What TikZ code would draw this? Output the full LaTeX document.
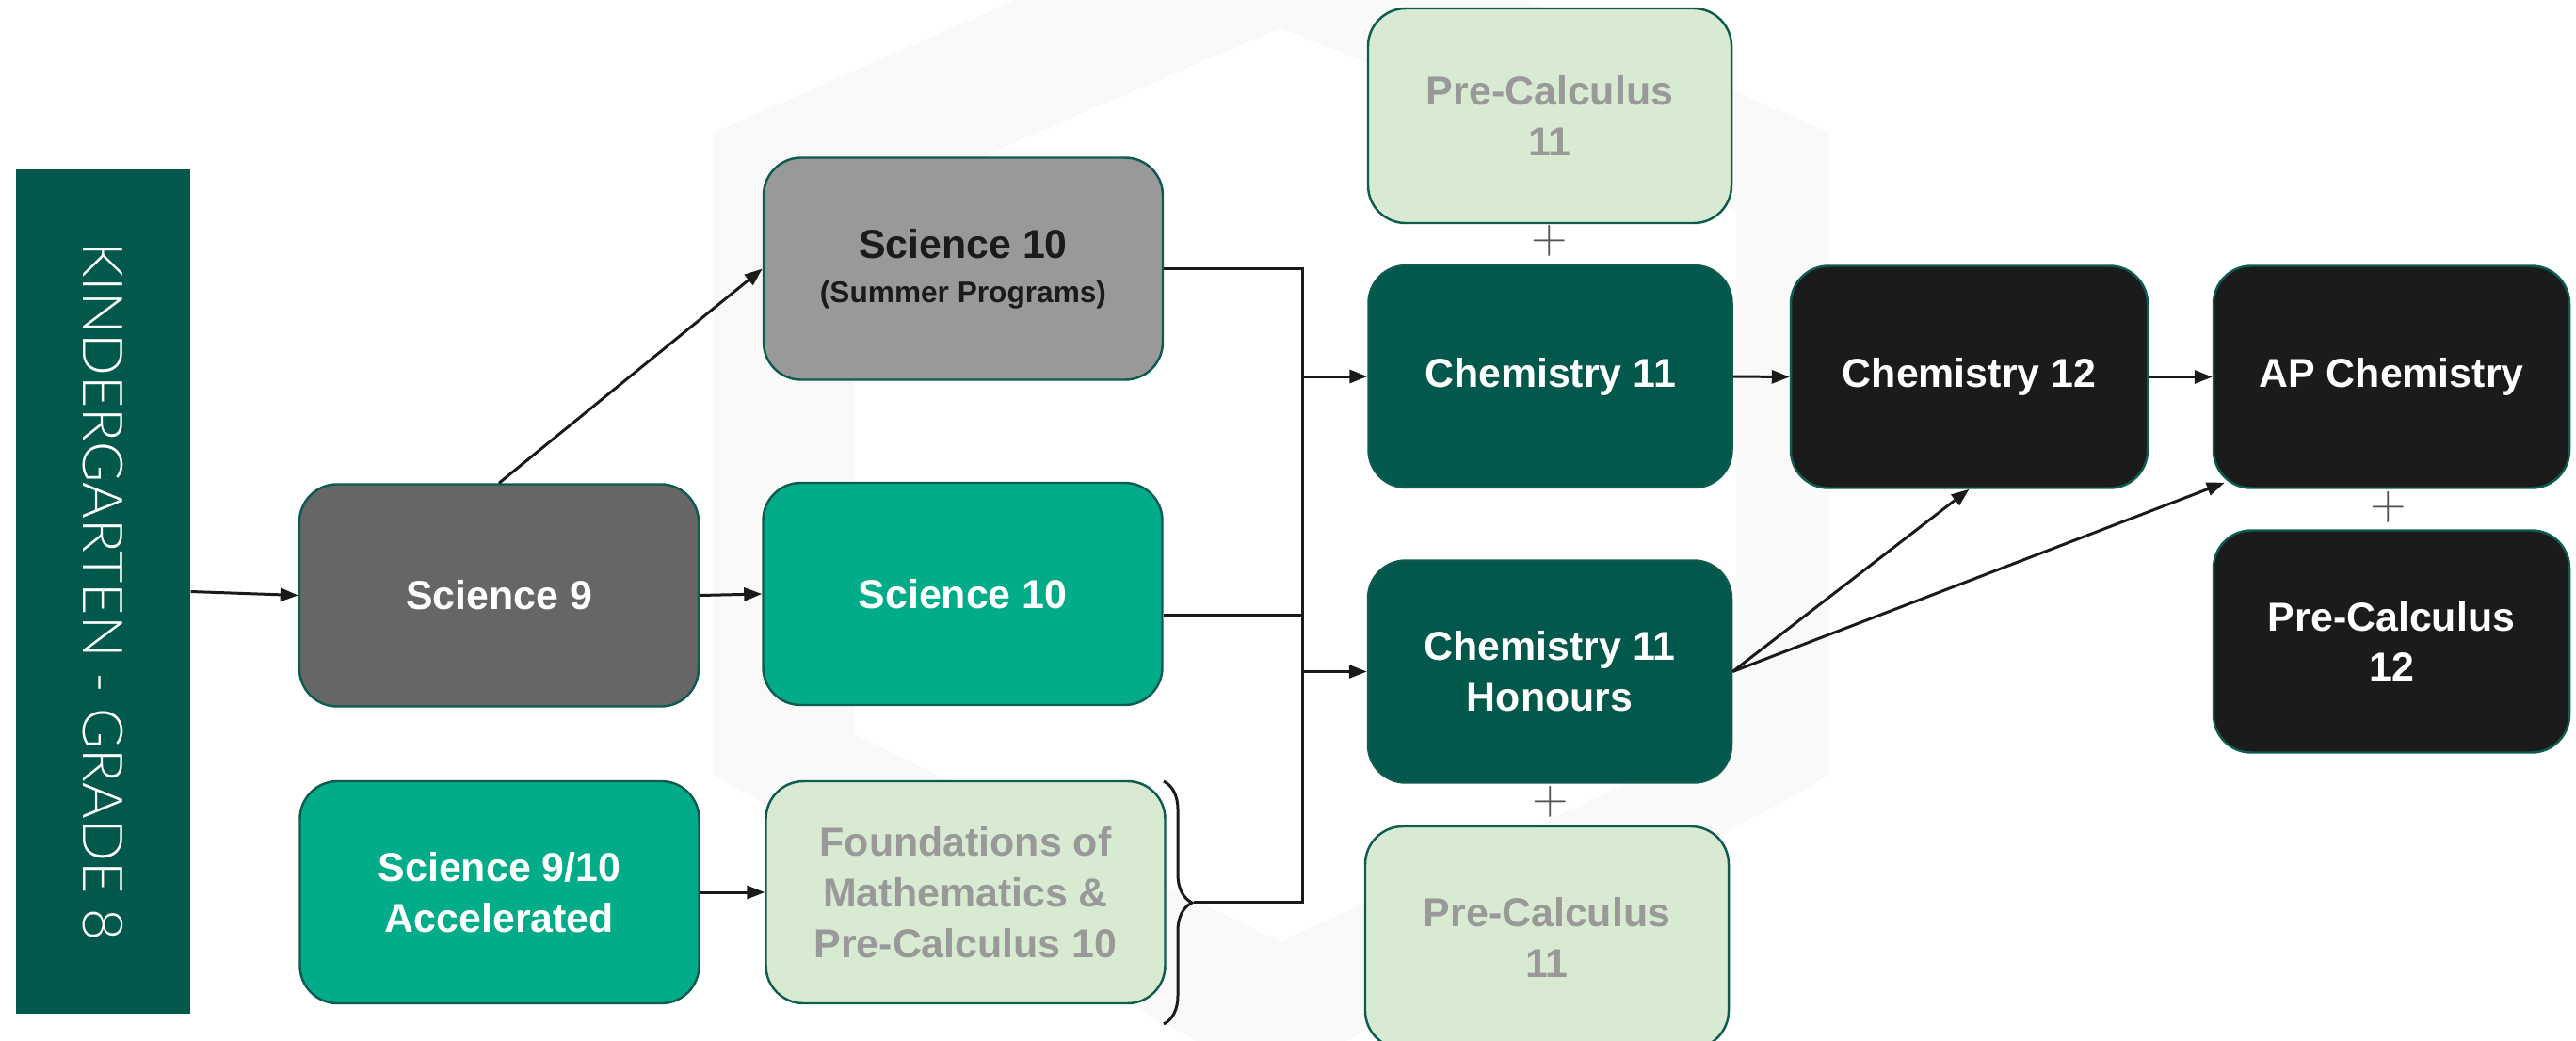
\documentclass[tikz,border=0pt]{standalone}
\usepackage{fontspec}
\setmainfont{Liberation Sans}
\newfontfamily\thinfont{Lato Light}
\usetikzlibrary{arrows.meta,decorations.pathreplacing}

\definecolor{dkgreen}{HTML}{02584B}
\definecolor{midgreen}{HTML}{03AC89}
\definecolor{palegreen}{HTML}{D9EAD3}
\definecolor{edgegreen}{HTML}{0E5B50}
\definecolor{nearblack}{HTML}{1B1B1B}
\definecolor{linegrey}{HTML}{1A1A1A}

\begin{document}
\begin{tikzpicture}[
    course/.style={draw=edgegreen, line width=0.7pt, rounded corners=0.4cm, align=center, inner sep=0pt,
      minimum height=2.36cm, font=\bfseries\fontsize{12.2}{15.3}\selectfont},
    wide/.style={course, minimum width=4.24cm},
    narrow/.style={course, minimum width=3.86cm},
    link/.style={draw=linegrey, line width=0.85pt},
    flow/.style={link, -{Triangle[length=0.19cm,width=0.14cm]}},
    plus/.style={text=black!67, inner sep=0pt, font=\fontsize{14}{14}\selectfont}
  ]
    \useasboundingbox (0,0) rectangle (27.36,-11.05);

    % faint logo in the background
    \fill[black!2.5, even odd rule] (7.58,-1.41) -- (13.5,1.2) -- (19.43,-1.41) -- (19.43,-8.24) -- (13.5,-11.5) -- (7.58,-8.24) -- cycle
      (9.07,-2.25) -- (13.6,-0.3) -- (18.44,-2.25) -- (18.44,-7.8) -- (13.6,-10.0) -- (9.07,-7.8) -- cycle;

    \node[fill=dkgreen, rotate=-90, minimum width=8.97cm, minimum height=1.85cm, inner sep=0pt,
      text=white, font=\thinfont\fontsize{16.8}{19}\selectfont] (bar) at (1.095,-6.285) {KINDERGARTEN - GRADE 8};

    \node[wide, fill=black!60, text=white] (sci9) at (5.30,-6.325) {Science 9};
    \node[wide, fill=midgreen, text=white] (acc) at (5.305,-9.48) {Science 9/10\\Accelerated};
    \node[wide, fill=black!40, text=nearblack] (sci10s) at (10.23,-2.855) {Science 10\\[-2pt]{\fontsize{9}{10.5}\selectfont (Summer Programs)}};
    \node[wide, fill=midgreen, text=white] (sci10) at (10.225,-6.31) {Science 10};
    \node[wide, fill=palegreen, text=black!40] (found) at (10.255,-9.48) {Foundations of\\Mathematics \&\\Pre-Calculus 10};

    \node[narrow, minimum height=2.28cm, fill=palegreen, text=black!40] (pcA) at (16.46,-1.23) {Pre-Calculus\\11};
    \node[narrow, fill=dkgreen, text=white] (chem11) at (16.465,-4.00) {Chemistry 11};
    \node[narrow, fill=dkgreen, text=white] (hon) at (16.46,-7.135) {Chemistry 11\\Honours};
    \node[narrow, fill=palegreen, text=black!40] (pcB) at (16.43,-9.96) {Pre-Calculus\\11};

    \node[narrow, minimum width=3.79cm, fill=nearblack, text=white] (chem12) at (20.915,-4.005) {Chemistry 12};
    \node[narrow, minimum width=3.78cm, fill=nearblack, text=white] (ap) at (25.40,-4.005) {AP Chemistry};
    \node[narrow, minimum width=3.78cm, fill=nearblack, text=white] (pc12) at (25.40,-6.815) {Pre-Calculus\\12};

    \node[plus] (plusA) at (16.46,-2.56) {$+$};
    \node[plus] (plusB) at (16.47,-8.52) {$+$};
    \node[plus] (plusC) at (25.37,-5.39) {$+$};

    \coordinate (tip) at (12.68,-9.58);
    \coordinate (jtop) at (13.83,-2.855);
    \coordinate (jmid) at (13.83,-6.53);
    \coordinate (jbot) at (13.83,-9.58);

    \draw[flow] (bar.north) -- (sci9.west);
    \draw[flow] (sci9.north) -- (sci10s.west);
    \draw[flow] (sci9.east) -- (sci10.west);
    \draw[flow] (acc.east) -- (found.west);

    \draw[link, decorate, decoration={brace, amplitude=0.3cm, aspect=0.5}] (12.36,-8.30) -- (12.36,-10.88);
    \draw[link] (sci10s.east) -- (jtop) -- (jbot) -- (tip);
    \draw[link] (sci10.east |- jmid) -- (jmid);
    \draw[flow] (chem11.west -| jtop) -- (chem11.west);
    \draw[flow] (hon.west -| jtop) -- (hon.west);

    \draw[flow] (chem11.east) -- (chem12.west);
    \draw[flow] (chem12.east) -- (ap.west);
    \draw[flow] (hon.east) -- (chem12.south);
    \draw[flow] (hon.east) -- ([xshift=0.13cm, yshift=0.07cm]ap.south west);
\end{tikzpicture}
\end{document}
